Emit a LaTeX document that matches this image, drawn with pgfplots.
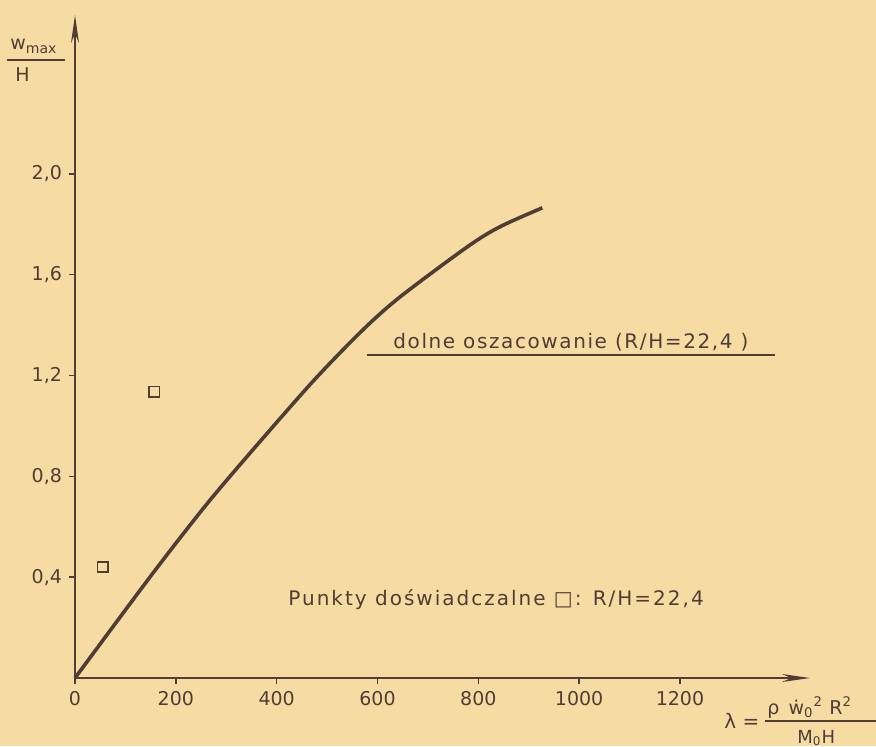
\documentclass[border=0pt]{standalone}
\usepackage{fontspec}
\setmainfont{DejaVu Sans}
\newfontfamily\spaced[LetterSpace=8]{DejaVu Sans}
\newfontfamily\spacedb[LetterSpace=10]{DejaVu Sans}
\usepackage{pgfplots}
\pgfplotsset{compat=1.18}
\usetikzlibrary{arrows.meta}
\definecolor{paper}{RGB}{246,220,162}
\definecolor{ink}{RGB}{82,60,54}
\begin{document}
\begin{tikzpicture}[x=1pt,y=1pt]
\fill[paper] (0,0) rectangle (438,373);
\useasboundingbox (0,0) rectangle (438,373);
\begin{axis}[
  at={(37.5pt,34pt)}, anchor=south west, scale only axis,
  width=367.5pt, height=331.5pt,
  xmin=0, xmax=1458, ymin=0, ymax=2.63,
  axis lines=left,
  axis line style={ink, line width=0.9pt, -{Stealth[length=14pt,width=4pt]}},
  xtick={0,200,400,600,800,1000,1200},
  ytick={0.4,0.8,1.2,1.6,2.0},
  yticklabels={{0,4},{0,8},{1,2},{1,6},{2,0}},
  tick align=outside,
  major tick length=3pt,
  tick style={ink, line width=0.7pt},
  ticklabel style={font=\fontsize{9.5}{11}\selectfont, text=ink},
  /pgf/number format/assume math mode=true,
  /pgf/number format/1000 sep={},
  clip=false,
]
\addplot[ink, line width=1.8pt, smooth] coordinates {
  (0,0) (155,0.417) (268,0.706) (387,0.984) (480,1.194)
  (571,1.381) (645,1.512) (778,1.71) (843,1.79) (927,1.865)
};
\addplot[only marks, mark=square, mark size=2.6pt, ink, mark options={line width=0.8pt}] coordinates {
  (55,0.44) (157,1.135)
};
\end{axis}
% y label
\node[ink, font=\fontsize{9.5}{11}\selectfont, anchor=base west, inner sep=0pt] at (5,348) {w\raisebox{-0.35ex}{\fontsize{7}{8}\selectfont max}};
\draw[ink, line width=0.8pt] (3.5,343) -- (32.5,343);
\node[ink, font=\fontsize{9.5}{11}\selectfont, anchor=base west, inner sep=0pt] at (7.5,332) {H};
% x label
\node[ink, font=\fontsize{10}{12}\selectfont, anchor=base west, inner sep=0pt] at (362,9) {λ =};
\node[ink, font=\fontsize{9.5}{11}\selectfont, anchor=base west, inner sep=0pt] at (383.5,16) {ρ\, \.{w}\textsubscript{0}\textsuperscript{2}\,\,R\textsuperscript{2}};
\draw[ink, line width=0.8pt] (382.5,12.5) -- (438,12.5);
\node[ink, font=\fontsize{9}{11}\selectfont, anchor=base west, inner sep=0pt] at (398.5,1.5) {M\textsubscript{0}H};
% annotations
\node[ink, font=\spaced\fontsize{10}{12}\selectfont, anchor=base west, inner sep=0pt] at (196.5,199) {dolne oszacowanie (R/H=22,4 )};
\draw[ink, line width=0.8pt] (183.5,195.5) -- (387.5,195.5);
\node[ink, font=\spacedb\fontsize{10}{12}\selectfont, anchor=base west, inner sep=0pt] at (144,70.5) {Punkty doświadczalne □: R/H=22,4};
\end{tikzpicture}
\end{document}
